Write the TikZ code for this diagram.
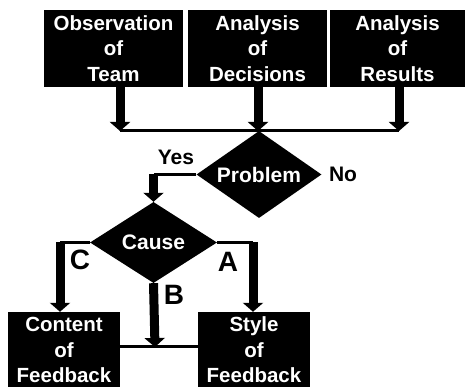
\documentclass[tikz,border=0pt]{standalone}
\usepackage{fontspec}
\setmainfont{Liberation Sans}
\usetikzlibrary{arrows.meta,shapes.geometric}
\tikzset{
	box/.style={fill=black, text=white, inner sep=0pt, align=center, font=\bfseries\fontsize{20.5}{25.5}\selectfont},
	decision/.style={diamond, fill=black, text=white, inner sep=0pt, aspect=1.5, font=\bfseries\fontsize{21}{24}\selectfont},
	thickarrow/.style={line width=9pt, -{Triangle[width=20pt,length=9pt]}},
	thinline/.style={line width=3pt},
	lbl/.style={font=\bfseries\fontsize{21}{24}\selectfont},
	biglbl/.style={font=\bfseries\fontsize{28}{30}\selectfont}
}

\begin{document}
\begin{tikzpicture}[x=1pt, y=-1pt]
			%%%%% START %%%%%
			\useasboundingbox (0, 0) rectangle (467, 387);
			
			\node[box, minimum width=139pt, minimum height=77pt] (obs) at (113.5, 48.5) {Observation\\of\\Team};
			\node[box, minimum width=139pt, minimum height=77pt] (dec) at (257.5, 48.5) {Analysis\\of\\Decisions};
			\node[box, minimum width=135pt, minimum height=77pt] (res) at (397.5, 48.5) {Analysis\\of\\Results};
			
			\coordinate (j1) at (120, 131);
			\coordinate (j2) at (258, 131);
			\coordinate (j3) at (399, 131);
			
			\draw[thickarrow] (j1 |- obs.south) -- (j1);
			\draw[thickarrow] (j2 |- dec.south) -- (j2);
			\draw[thickarrow] (j3 |- res.south) -- (j3);
			\draw[thinline] (j1) -- (j3);
			
			\node[decision, minimum width=125pt, minimum height=87pt] (prob) at (259, 174.5) {Problem};
			\node[lbl] (yes) at (176, 157) {Yes};
			\node[lbl] (no) at (343, 174) {No};
			
			\node[decision, minimum width=127pt, minimum height=81pt] (cause) at (153.5, 242.5) {Cause};
			
			\draw[thinline] (prob.west) -- (prob.west -| cause.north);
			\draw[thickarrow] (prob.west -| cause.north) -- (cause.north);
			
			\node[box, minimum width=112pt, minimum height=76pt] (content) at (64, 350) {Content\\of\\Feedback};
			\node[box, minimum width=112pt, minimum height=76pt] (style) at (254, 350) {Style\\of\\Feedback};
			
			\coordinate (cc) at (60, 242.5);
			\coordinate (ca) at (253, 242.5);
			\coordinate (jb) at (155, 347);
			
			\draw[thinline] (cause.west) -- (cc);
			\draw[thickarrow] (cc) -- (cc |- content.north);
			\draw[thinline] (cause.east) -- (ca);
			\draw[thickarrow] (ca) -- (ca |- style.north);
			\draw[thickarrow] (cause.south) -- (jb);
			\draw[thinline] (jb -| content.east) -- (jb -| style.west);
			
			\node[biglbl] (c) at (80, 260) {C};
			\node[biglbl] (a) at (228, 262) {A};
			\node[biglbl] (b) at (174, 295) {B};
			
			%%%%% END %%%%%
		\end{tikzpicture}
\end{document}
